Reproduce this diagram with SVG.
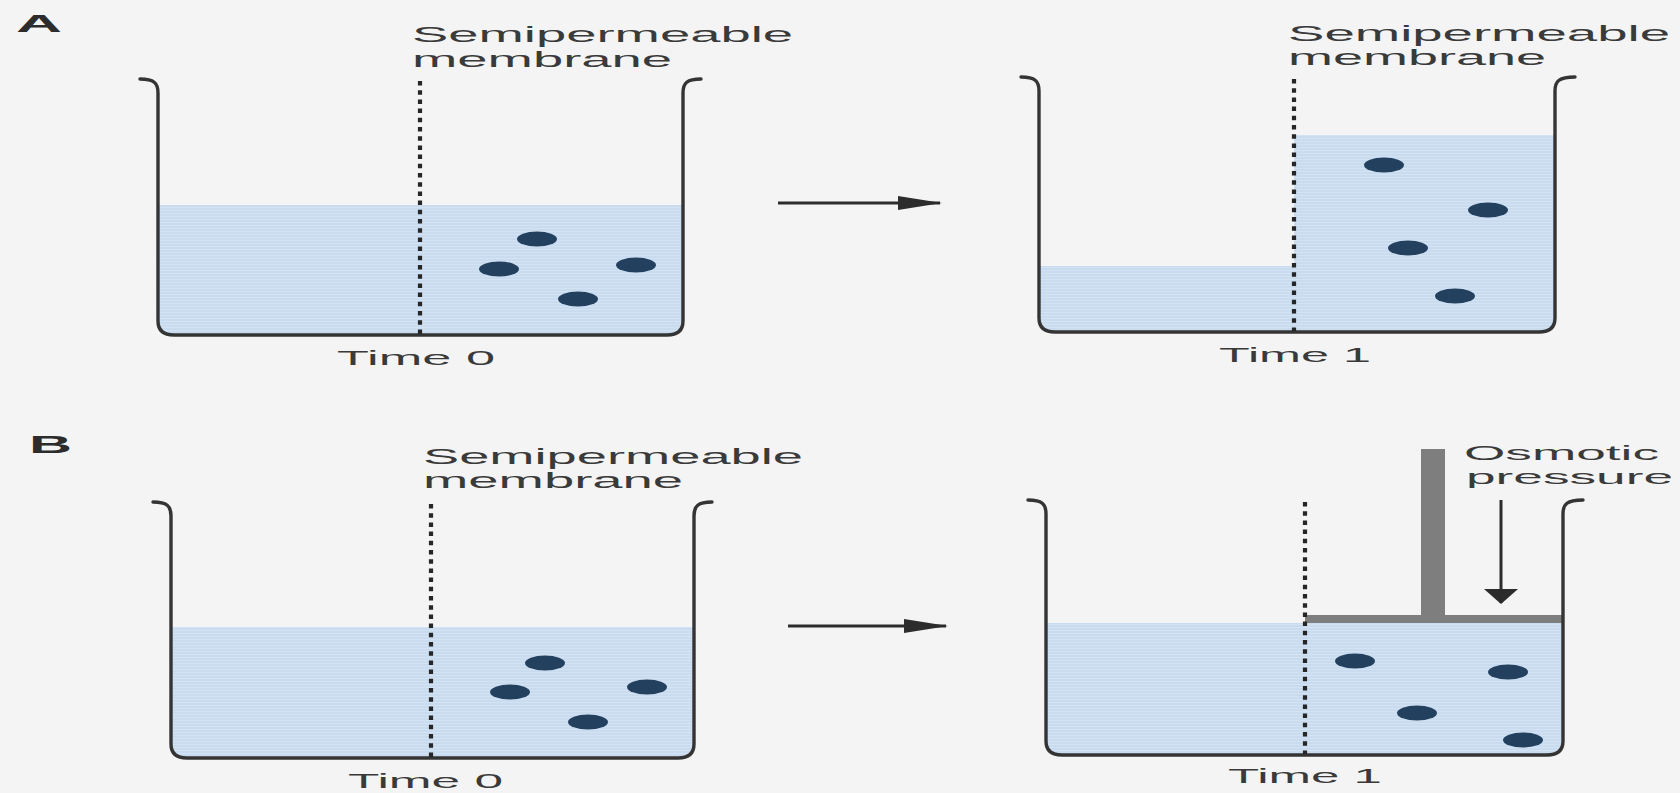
<svg xmlns="http://www.w3.org/2000/svg" width="1680" height="793" viewBox="0 0 1680 793">
  <defs>
    <style>
      .bg { fill: #f4f4f4; }
      .beaker { fill: none; stroke: #343434; stroke-width: 3.4; stroke-linejoin: round; stroke-linecap: round; }
      .water { fill: url(#waterTex); }
      .membrane { stroke: #262626; stroke-width: 4.2; stroke-dasharray: 4.5 4.7; fill: none; }
      .solute { fill: #23415f; }
      .label { font-family: "Liberation Sans", Arial, sans-serif; font-size: 22px; fill: #3a3a3a; }
      .note { font-family: "Liberation Sans", Arial, sans-serif; font-size: 21px; fill: #3a3a3a; }
      .time { font-family: "Liberation Sans", Arial, sans-serif; font-size: 21px; fill: #3a3a3a; }
      .panel { font-family: "Liberation Sans", Arial, sans-serif; font-size: 24px; font-weight: bold; fill: #2c2c2c; }
      .link { stroke: #2c2c2c; stroke-width: 3; fill: none; }
      .piston { fill: #7e7e7e; }
    </style>
    <!-- light blue solution with a fine horizontal print texture -->
    <pattern id="waterTex" patternUnits="userSpaceOnUse" width="8" height="3">
      <rect width="8" height="3" fill="#c8dbef"/>
      <rect y="0" width="8" height="1" fill="#d3e3f3"/>
    </pattern>
    <marker id="headRight" markerUnits="userSpaceOnUse" viewBox="0 0 44 14" markerWidth="44" markerHeight="14" refX="42" refY="7" orient="auto">
      <path d="M0,0 L44,7 L0,14 Z" fill="#2c2c2c"/>
    </marker>
    <marker id="headDown" markerUnits="userSpaceOnUse" viewBox="0 0 15 34" markerWidth="15" markerHeight="34" refX="14" refY="17" orient="auto">
      <path d="M0,0 L15,17 L0,34 Z" fill="#2c2c2c"/>
    </marker>
  </defs>

  <rect class="bg" x="0" y="0" width="1680" height="793"/>

  <!-- Panel A -->
  <text class="panel" x="16" y="32" textLength="46" lengthAdjust="spacingAndGlyphs">A</text>

  <g id="a-time0">
    <path class="water" d="M158,205 L158,321 Q158,335 174,335 L667,335 Q683,335 683,321 L683,205 Z"/>
    <path class="beaker" d="M140,79 C154,79 158,83 158,93 L158,321 Q158,335 174,335 L667,335 Q683,335 683,321 L683,93 C683,83 687,79 701,79"/>
    <line class="membrane" x1="420" y1="81" x2="420" y2="334"/>
    <ellipse class="solute" cx="537" cy="239" rx="20" ry="7.5"/>
    <ellipse class="solute" cx="499" cy="269" rx="20" ry="7.5"/>
    <ellipse class="solute" cx="636" cy="265" rx="20" ry="7.5"/>
    <ellipse class="solute" cx="578" cy="299" rx="20" ry="7.5"/>
    <text class="label" x="412" y="42" textLength="381" lengthAdjust="spacingAndGlyphs">Semipermeable</text>
    <text class="label" x="412" y="67" textLength="260" lengthAdjust="spacingAndGlyphs">membrane</text>
    <text class="time" x="337" y="365" textLength="158" lengthAdjust="spacingAndGlyphs">Time 0</text>
  </g>

  <g id="a-time1">
    <path class="water" d="M1039,266 L1039,318 Q1039,332 1055,332 L1294,332 L1294,266 Z"/>
    <path class="water" d="M1294,135 L1294,332 L1539,332 Q1555,332 1555,318 L1555,135 Z"/>
    <path class="beaker" d="M1021,77 C1035,77 1039,81 1039,91 L1039,318 Q1039,332 1055,332 L1539,332 Q1555,332 1555,318 L1555,91 C1555,81 1559,77 1575,77"/>
    <line class="membrane" x1="1294" y1="79" x2="1294" y2="331"/>
    <ellipse class="solute" cx="1384" cy="165" rx="20" ry="7.5"/>
    <ellipse class="solute" cx="1488" cy="210" rx="20" ry="7.5"/>
    <ellipse class="solute" cx="1408" cy="248" rx="20" ry="7.5"/>
    <ellipse class="solute" cx="1455" cy="296" rx="20" ry="7.5"/>
    <text class="label" x="1288" y="41" textLength="382" lengthAdjust="spacingAndGlyphs">Semipermeable</text>
    <text class="label" x="1288" y="65" textLength="258" lengthAdjust="spacingAndGlyphs">membrane</text>
    <text class="time" x="1219" y="362" textLength="152" lengthAdjust="spacingAndGlyphs">Time 1</text>
  </g>

  <!-- Panel B -->
  <text class="panel" x="29" y="453" textLength="43" lengthAdjust="spacingAndGlyphs">B</text>

  <g id="b-time0">
    <path class="water" d="M171,627 L171,744 Q171,758 187,758 L678,758 Q694,758 694,744 L694,627 Z"/>
    <path class="beaker" d="M153,502 C167,502 171,506 171,516 L171,744 Q171,758 187,758 L678,758 Q694,758 694,744 L694,516 C694,506 698,502 712,502"/>
    <line class="membrane" x1="431" y1="504" x2="431" y2="757"/>
    <ellipse class="solute" cx="545" cy="663" rx="20" ry="7.5"/>
    <ellipse class="solute" cx="510" cy="692" rx="20" ry="7.5"/>
    <ellipse class="solute" cx="647" cy="687" rx="20" ry="7.5"/>
    <ellipse class="solute" cx="588" cy="722" rx="20" ry="7.5"/>
    <text class="label" x="423" y="464" textLength="380" lengthAdjust="spacingAndGlyphs">Semipermeable</text>
    <text class="label" x="423" y="488" textLength="260" lengthAdjust="spacingAndGlyphs">membrane</text>
    <text class="time" x="348" y="788" textLength="155" lengthAdjust="spacingAndGlyphs">Time 0</text>
  </g>

  <g id="b-time1">
    <path class="water" d="M1046,623 L1046,741 Q1046,755 1062,755 L1547,755 Q1563,755 1563,741 L1563,623 Z"/>
    <!-- piston resting on the solution side -->
    <rect class="piston" x="1421" y="449" width="24" height="170"/>
    <rect class="piston" x="1305" y="615" width="258" height="8"/>
    <path class="beaker" d="M1028,500 C1042,500 1046,504 1046,514 L1046,741 Q1046,755 1062,755 L1547,755 Q1563,755 1563,741 L1563,514 C1563,504 1567,500 1583,500"/>
    <line class="membrane" x1="1305" y1="502" x2="1305" y2="754"/>
    <ellipse class="solute" cx="1355" cy="661" rx="20" ry="7.5"/>
    <ellipse class="solute" cx="1508" cy="672" rx="20" ry="7.5"/>
    <ellipse class="solute" cx="1417" cy="713" rx="20" ry="7.5"/>
    <ellipse class="solute" cx="1523" cy="740" rx="20" ry="7.5"/>
    <line class="link" x1="1501" y1="500" x2="1501" y2="603" marker-end="url(#headDown)"/>
    <text class="note" x="1464" y="460" textLength="195" lengthAdjust="spacingAndGlyphs">Osmotic</text>
    <text class="note" x="1466" y="484" textLength="207" lengthAdjust="spacingAndGlyphs">pressure</text>
    <text class="time" x="1228" y="783" textLength="154" lengthAdjust="spacingAndGlyphs">Time 1</text>
  </g>

  <!-- Transitions from time 0 to time 1 -->
  <g id="connectors">
    <line class="link" x1="778" y1="203" x2="940" y2="203" marker-end="url(#headRight)"/>
    <line class="link" x1="788" y1="626" x2="946" y2="626" marker-end="url(#headRight)"/>
  </g>
</svg>
